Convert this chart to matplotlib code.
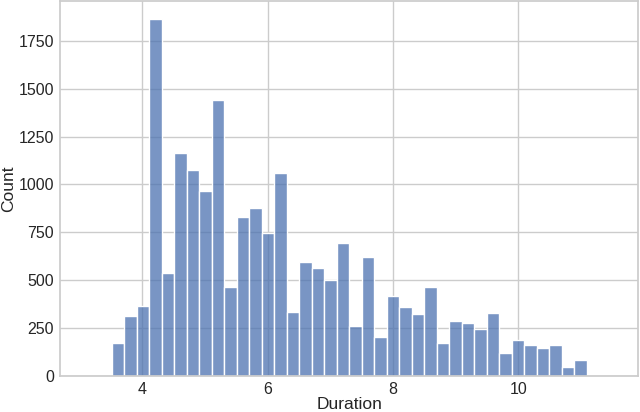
import numpy as np
import pandas as pd
import matplotlib
matplotlib.use('Agg')
import matplotlib.pyplot as plt
import seaborn as sns

# histogram bins (38 bins, ~0.2 wide)
bin_start = 3.517
bin_end = 11.09
counts = [171, 314, 366, 1865, 540, 1165, 1076, 964, 1440, 462,
          830, 879, 748, 1060, 335, 595, 566, 502, 692, 263,
          621, 206, 418, 361, 321, 465, 173, 289, 279, 246,
          328, 119, 187, 164, 146, 164, 45, 82]

edges = np.linspace(bin_start, bin_end, len(counts) + 1)
centers = (edges[:-1] + edges[1:]) / 2
df = pd.DataFrame({'Duration': centers, 'n': counts})

sns.set_theme(style='whitegrid')
plt.rcParams['font.family'] = ['Liberation Sans', 'DejaVu Sans']

fig = plt.figure(figsize=(6.4, 4.12), dpi=100)
ax = fig.add_axes([0.094, 0.0874, 0.903, 0.9106])

sns.histplot(data=df, x='Duration', weights='n', bins=list(edges), ax=ax)

ax.set_xlim(2.693, 11.909)
ax.set_yticks([0, 250, 500, 750, 1000, 1250, 1500, 1750])
ax.tick_params(length=0, pad=4.5, labelsize=11.5)
ax.set_xlabel('Duration', labelpad=0, fontsize=12.5)
ax.set_ylabel('Count', labelpad=2, fontsize=12.5)

fig.savefig('out.png', dpi=100)
